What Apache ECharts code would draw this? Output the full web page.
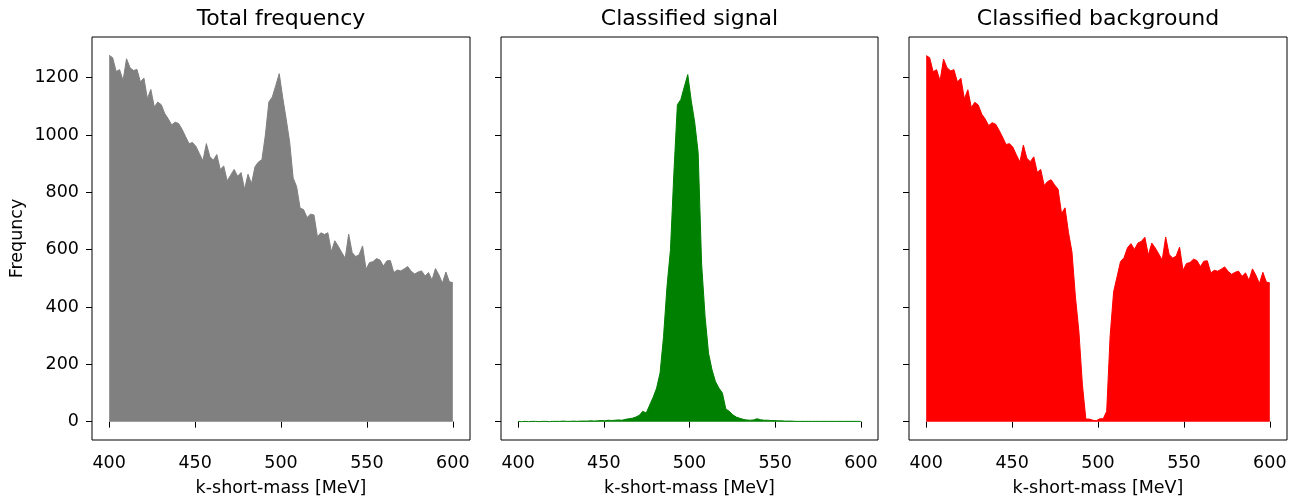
<!DOCTYPE html>
<html>
<head>
<meta charset="utf-8">
<script src="https://cdn.jsdelivr.net/npm/echarts@6/dist/echarts.min.js"></script>
<style>
html,body{margin:0;padding:0;background:#fff;}
#c{width:1299px;height:498px;}
</style>
</head>
<body>
<div id="c"></div>
<script>
// Histogram of k-short-mass, 100 points between 400 and 600 MeV
const massFirst = 400;
const massLast = 600;
const panelTitles = ['Total frequency', 'Classified signal', 'Classified background'];
const xTicks = [400, 450, 500, 550, 600];
const yTicks = [0, 200, 400, 600, 800, 1000, 1200];

const totalFreq = [
 1278,1270,1222,1228,1190,1266,1235,1225,1229,1185,
 1199,1127,1159,1098,1115,1106,1075,1057,1035,1045,
 1040,1020,995,970,974,960,935,910,970,925,
 912,932,880,892,840,860,880,856,869,811,
 863,830,889,906,914,1000,1115,1133,1173,1214,
 1130,1055,975,850,820,745,740,712,724,721,
 645,659,653,659,593,631,612,590,570,654,
 590,576,582,613,532,555,558,569,564,543,
 561,562,520,529,526,533,541,525,515,522,
 526,508,520,494,534,512,483,522,488,485
];

const signalFreq = [
 1,0,1,0,1,1,0,1,1,0,
 1,1,1,2,1,1,2,1,2,2,
 2,3,2,3,4,3,5,4,5,6,
 5,8,10,12,16,22,36,30,58,85,
 117,170,297,471,600,870,1106,1124,1168,1211,
 1120,1045,939,550,367,239,181,140,117,100,
 44,36,24,16,12,8,6,5,6,10,
 7,5,5,4,4,3,3,2,2,2,
 1,1,1,1,1,1,1,1,1,1,
 1,1,1,1,1,1,1,1,1,1
];

const backgroundFreq = [
 1277,1270,1221,1228,1189,1265,1235,1224,1228,1185,
 1198,1126,1158,1096,1114,1105,1073,1056,1033,1043,
 1038,1017,993,967,970,957,930,906,965,919,
 907,924,870,880,824,838,844,826,811,726,
 746,660,592,435,314,130,9,9,5,3,
 10,10,36,300,453,506,559,572,607,621,
 601,623,629,643,581,623,606,585,564,644,
 583,571,577,609,528,552,555,567,562,541,
 560,561,519,528,525,532,540,524,514,521,
 525,507,519,493,533,511,482,521,487,484
];

const panelSeries = [totalFreq, signalFreq, backgroundFreq];
const panelColors = ['#808080', '#008000', '#ff0000'];

const mass = totalFreq.map((_, i) => massFirst + i * (massLast - massFirst) / (totalFreq.length - 1));

const FONT = 'DejaVu Sans';
const TICK_FS = 17.5;
const gridLefts = [92, 501, 909];
const gridWidths = [378, 377, 378];
const gridTop = 37, gridHeight = 403;

const grids = [], xAxes = [], yAxes = [], series = [], titles = [];
for (let p = 0; p < 3; p++) {
  grids.push({left: gridLefts[p], top: gridTop, width: gridWidths[p], height: gridHeight,
    show: true, borderColor: '#000', borderWidth: 1, backgroundColor: '#fff',
    containLabel: false, outerBoundsMode: 'none'});
  xAxes.push({type: 'value', gridIndex: p, min: 390, max: 610,
    axisLine: {show: false},
    axisTick: {show: true, inside: false, length: 6, lineStyle: {color: '#000', width: 1}, customValues: xTicks},
    axisLabel: {show: true, color: '#000', fontFamily: FONT, fontSize: TICK_FS, margin: 14, customValues: xTicks,
      formatter: v => String(v)},
    splitLine: {show: false},
    name: 'k-short-mass [MeV]', nameLocation: 'middle', nameGap: 39,
    nameTextStyle: {color: '#000', fontFamily: FONT, fontSize: TICK_FS}
  });
  yAxes.push({type: 'value', gridIndex: p, min: -64, max: 1342,
    axisLine: {show: false},
    axisTick: {show: true, inside: false, length: 6, lineStyle: {color: '#000', width: 1}, customValues: yTicks},
    axisLabel: {show: p === 0, color: '#000', fontFamily: FONT, fontSize: TICK_FS, margin: 13, customValues: yTicks,
      formatter: v => String(v)},
    splitLine: {show: false},
    name: p === 0 ? 'Frequncy' : '', nameLocation: 'middle', nameGap: 66, nameRotate: 90,
    nameTextStyle: {color: '#000', fontFamily: FONT, fontSize: TICK_FS}
  });
  series.push({type: 'line', xAxisIndex: p, yAxisIndex: p,
    data: panelSeries[p].map((v, i) => [mass[i], v]),
    symbol: 'none', smooth: false, silent: true, animation: false,
    lineStyle: {color: panelColors[p], width: 1},
    areaStyle: {color: panelColors[p], opacity: 1, origin: 0}
  });
  titles.push({text: panelTitles[p], left: gridLefts[p] + gridWidths[p] / 2, top: 8, padding: 0,
    textAlign: 'center',
    textStyle: {color: '#000', fontFamily: FONT, fontSize: 22, fontWeight: 'normal'}});
}

const chart = echarts.init(document.getElementById('c'), null, {renderer: 'canvas'});
chart.setOption({
  backgroundColor: '#fff',
  animation: false,
  title: titles,
  grid: grids,
  xAxis: xAxes,
  yAxis: yAxes,
  series: series
});
</script>
</body>
</html>
